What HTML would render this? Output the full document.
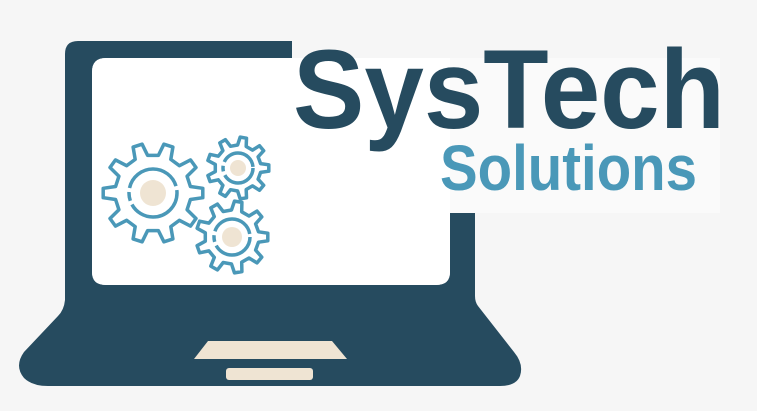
<!DOCTYPE html>
<html><head><meta charset="utf-8"><style>
html,body{margin:0;padding:0;background:#f6f6f6;}
svg{display:block}
</style></head><body>
<svg id="s" width="757" height="411" viewBox="0 0 757 411" xmlns="http://www.w3.org/2000/svg">
<rect width="757" height="411" fill="#f6f6f6"/>
<path d="M65 290 L65 300 Q64 310 58 316 L24 352 Q14 366 24 378 Q32 386 48 386 L500 386 Q516 386 520 376 Q524 364 514 352 L478 306 Q475 302 475 296 L475 290 Z" fill="#264b5f"/>
<path d="M78 41 L292 41 L292 58 L106 58 Q92 58 92 72 L92 272 Q92 285 106 285 L436 285 Q450 285 450 272 L450 213 L475 213 L475 300 L65 300 L65 54 Q65 41 78 41 Z" fill="#264b5f"/>
<path d="M106 58 L450 58 L450 272 Q450 285 436 285 L106 285 Q92 285 92 272 L92 72 Q92 58 106 58 Z" fill="#fff"/>
<rect x="450" y="58" width="270" height="155" fill="#fafafa"/>
<path d="M208 341 L332 341 L347 359 L194 359 Z" fill="#efe4d3"/>
<rect x="226" y="368" width="87" height="12" rx="3" fill="#efe4d3"/>
<g id="gears" fill="none" stroke="#4a98b8" stroke-width="3.5" stroke-linejoin="round"></g>
<text x="293" y="128" font-family="Liberation Sans, sans-serif" font-weight="700" font-size="112" fill="#264b5f" textLength="432" lengthAdjust="spacingAndGlyphs">SysTech</text>
<text x="440" y="190" font-family="Liberation Sans, sans-serif" font-weight="700" font-size="64" fill="#4a98b8" textLength="257" lengthAdjust="spacingAndGlyphs">Solutions</text>
</svg>
<script>
var g=document.getElementById('gears');var NS='http://www.w3.org/2000/svg';
function gear(cx,cy,R,r,n,ring,dot){
 var p=[];for(var i=0;i<n;i++){var a=i*2*Math.PI/n,w=Math.PI/n;
 var pts=[[a-w*0.55,r],[a-w*0.3,R],[a+w*0.3,R],[a+w*0.55,r]];
 pts.forEach(function(q){p.push((cx+q[1]*Math.cos(q[0])).toFixed(1)+','+(cy+q[1]*Math.sin(q[0])).toFixed(1));});}
 var pl=document.createElementNS(NS,'polygon');pl.setAttribute('points',p.join(' '));g.appendChild(pl);
 var c=document.createElementNS(NS,'circle');c.setAttribute('cx',cx);c.setAttribute('cy',cy);c.setAttribute('r',ring);
 c.setAttribute('stroke-dasharray',(ring*2*Math.PI*0.42).toFixed(1)+' 4 '+(ring*2*Math.PI*0.06).toFixed(1)+' 4');g.appendChild(c);
 var d=document.createElementNS(NS,'circle');d.setAttribute('cx',cx);d.setAttribute('cy',cy);d.setAttribute('r',dot);d.setAttribute('fill','#efe4d3');d.setAttribute('stroke','none');g.appendChild(d);
}
gear(153,193,50,38,10,24,13);
gear(238,168,31,23,9,15,8);
gear(232,237,36,27,9,18,10);
</script>
</body></html>
